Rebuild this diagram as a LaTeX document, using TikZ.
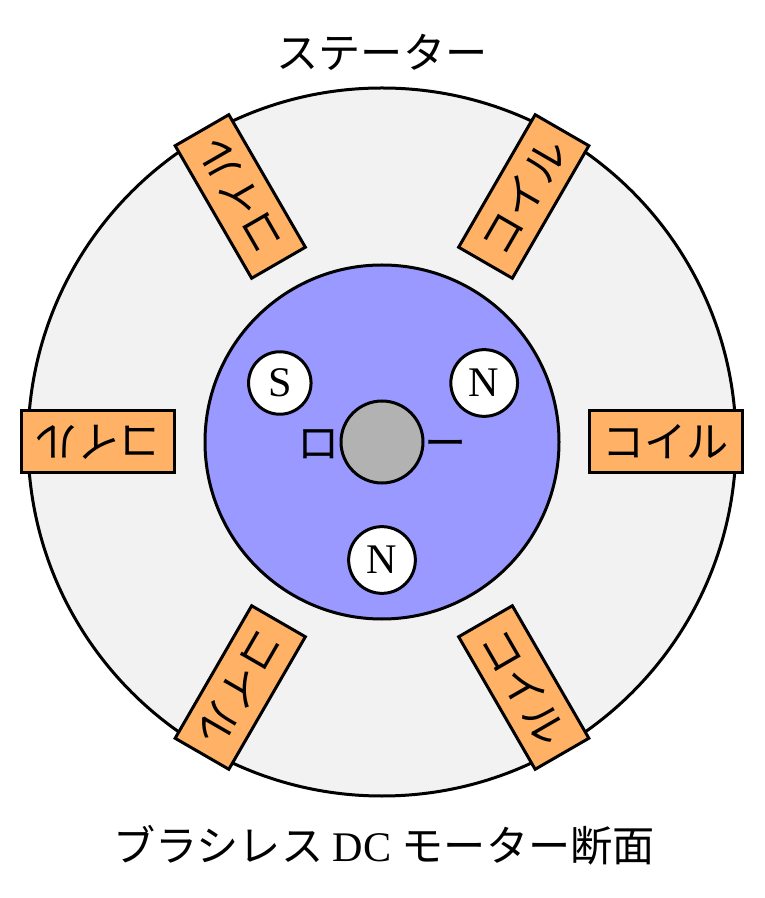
\documentclass[tikz,border=0pt]{standalone}
\usepackage{fontspec}
\setmainfont{Liberation Serif}
\newfontfamily\jpfont{Noto Sans CJK JP}
\tikzset{
  coil/.style={draw,line width=.03cm,fill=orange!60,minimum width=1.53cm,minimum height=.62cm,inner sep=0pt,font=\large\jpfont},
  magnet/.style={draw,circle,line width=.03cm,fill=white,inner sep=2.6pt,font=\large},
}
\begin{document}
\begin{tikzpicture}[line width=.03cm]
\useasboundingbox (-3.82,-4.56) rectangle (3.82,4.42);
\draw[fill=black!5] (0,0) circle (3.54);
\foreach \ang/\name in {0/a,60/b,120/c,180/d,240/e,300/f}{
  \node[coil,rotate=\ang] (coil\name) at (\ang:2.835) {コイル};
}
\draw[fill=blue!40] (0,0) circle (1.77);
\node[font=\large\jpfont] (rotorlabel) at (0,0) {ローター};
\draw[fill=black!30] (0,0) circle (.41);
\node[magnet] (magS) at (150:1.18) {S};
\node[magnet] (magNa) at (30:1.18) {N};
\node[magnet] (magNb) at (270:1.18) {N};
\node[font=\large\jpfont] (statorlabel) at (0,3.9) {ステーター};
\node[font=\large] (title) at (.02,-4.03) {\jpfont ブラシレス \rmfamily DC \jpfont モーター断面};
\end{tikzpicture}
\end{document}
